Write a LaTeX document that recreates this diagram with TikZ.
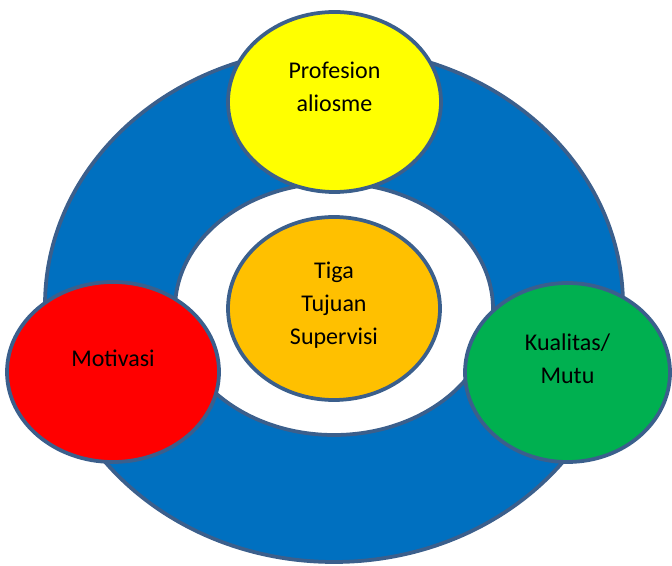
\documentclass[tikz,border=0pt]{standalone}
\usepackage{fontspec}
\setmainfont{Carlito}
\usetikzlibrary{shapes.geometric}

\definecolor{ringblue}{HTML}{0070C0}
\definecolor{rimline}{HTML}{3B5F8C}
\definecolor{goalyellow}{HTML}{FFFF00}
\definecolor{goalred}{HTML}{FF0000}
\definecolor{goalgreen}{HTML}{00B050}
\definecolor{goalorange}{HTML}{FFC000}

\begin{document}
\begin{tikzpicture}[x=1pt,y=1pt,
		goal/.style={ellipse, draw=rimline, line width=3.75pt, inner sep=0pt},
		txt/.style={align=center, font=\fontsize{24}{33}\selectfont}]
		\useasboundingbox (0,0) rectangle (672,565);
		% blue ring with white hole
		\path[fill=ringblue, draw=rimline, line width=3.75pt, even odd rule]
			(334,260) ellipse [x radius=289, y radius=257]
			(334,256) ellipse [x radius=159, y radius=126];
		\node [goal, fill=goalyellow, minimum width=213, minimum height=180] (prof) at (334.5,463) {};
		\node [goal, fill=goalred, minimum width=212, minimum height=180] (moti) at (113,193) {};
		\node [goal, fill=goalgreen, minimum width=205, minimum height=179] (mutu) at (567.5,192.5) {};
		\node [goal, fill=goalorange, minimum width=212, minimum height=183] (tiga) at (334,256.5) {};
		\node [txt] (proftext) at ([yshift=15]prof.center) {Profesion\\aliosme};
		\node [txt] (motitext) at ([yshift=14]moti.center) {Motivasi};
		\node [txt] (mututext) at ([yshift=14]mutu.center) {Kualitas/\\Mutu};
		\node [txt] (tigatext) at ([yshift=3.5]tiga.center) {Tiga\\Tujuan\\Supervisi};
	\end{tikzpicture}
\end{document}
